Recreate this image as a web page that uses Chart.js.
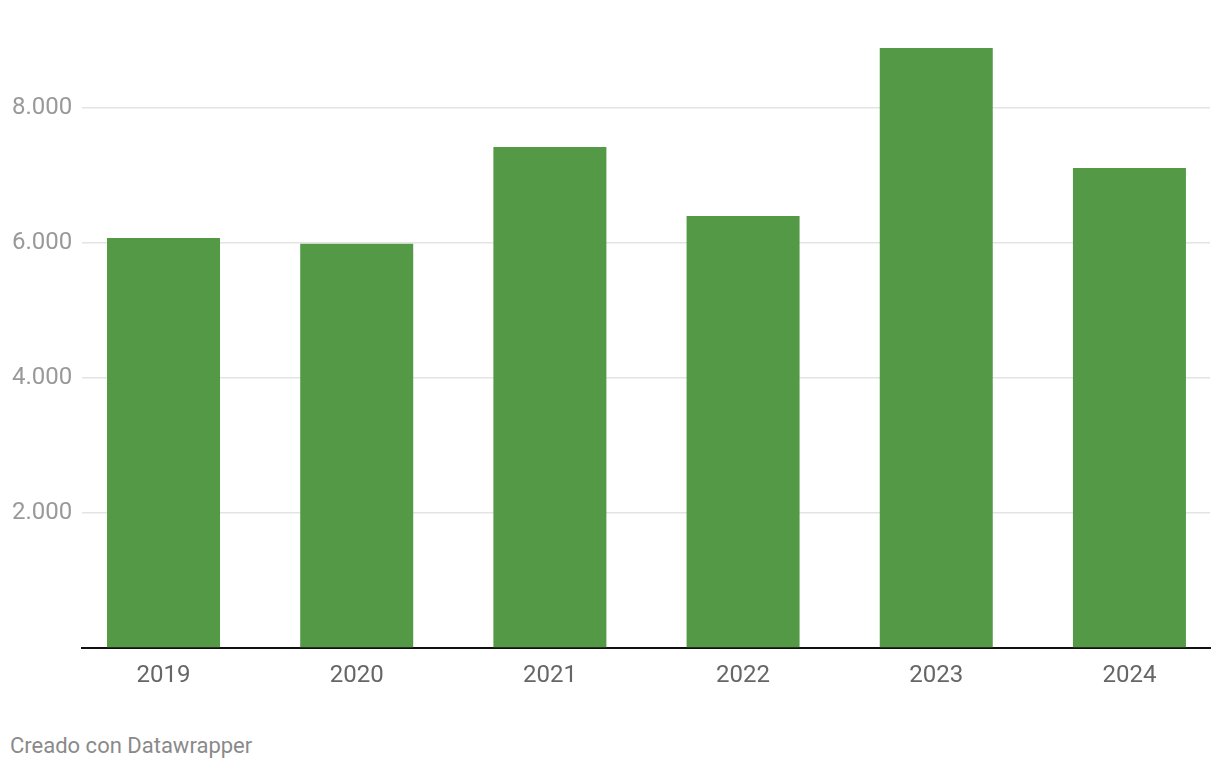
<!DOCTYPE html>
<html>
<head>
<meta charset="utf-8">
<script src="https://cdn.jsdelivr.net/npm/chart.js@4"></script>
<style>
    body { margin: 0; background: #fff; font-family: Roboto, sans-serif; }
    #wrap { position: relative; width: 1220px; height: 700px; }
    #footer { position: absolute; left: 10px; top: 733px; font-size: 22px; color: #8a8a8a; }
</style>
</head>
<body>
<div id="wrap"><canvas id="chart"></canvas></div>
<div id="footer">Creado con Datawrapper</div>
<script>
const years = [2019, 2020, 2021, 2022, 2023, 2024];
const values = [6074, 5990, 7422, 6400, 8889, 7111];
const yTicks = [0, 2000, 4000, 6000, 8000];

const canvas = document.getElementById('chart');

new Chart(canvas, {
    type: 'bar',
    data: {
        datasets: [{
            data: years.map((y, i) => ({ x: y, y: values[i] })),
            backgroundColor: '#549a46',
            barPercentage: 0.585,
            categoryPercentage: 1
        }]
    },
    options: {
        responsive: true,
        maintainAspectRatio: false,
        animation: false,
        layout: { padding: { top: 40.5, left: 12, right: 10, bottom: 0 } },
        plugins: { legend: { display: false }, tooltip: { enabled: false } },
        scales: {
            x: {
                type: 'linear',
                offset: false,
                min: 2018.578,
                max: 2024.417,
                afterBuildTicks: axis => { axis.ticks = years.map(v => ({ value: v })); },
                afterFit: axis => { axis.height = 52; },
                grid: { display: false, offset: false },
                border: { display: true, color: '#111', width: 2 },
                ticks: {
                    padding: 6,
                    color: '#666',
                    font: { family: 'Roboto', size: 24 },
                    callback: v => String(v)
                }
            },
            y: {
                min: 0,
                max: 9000,
                afterBuildTicks: axis => { axis.ticks = yTicks.map(v => ({ value: v })); },
                afterFit: axis => { axis.width = 70; },
                border: { display: false },
                grid: {
                    drawTicks: false,
                    color: ctx => ctx.tick && ctx.tick.value === 0 ? 'rgba(0,0,0,0)' : '#e3e3e3',
                    lineWidth: 1.5
                },
                ticks: {
                    crossAlign: 'far',
                    padding: 0,
                    color: '#999',
                    font: { family: 'Roboto', size: 24 },
                    callback: v => v === 0 ? '' : v.toLocaleString('de-DE')
                }
            }
        }
    }
});
</script>
</body>
</html>
